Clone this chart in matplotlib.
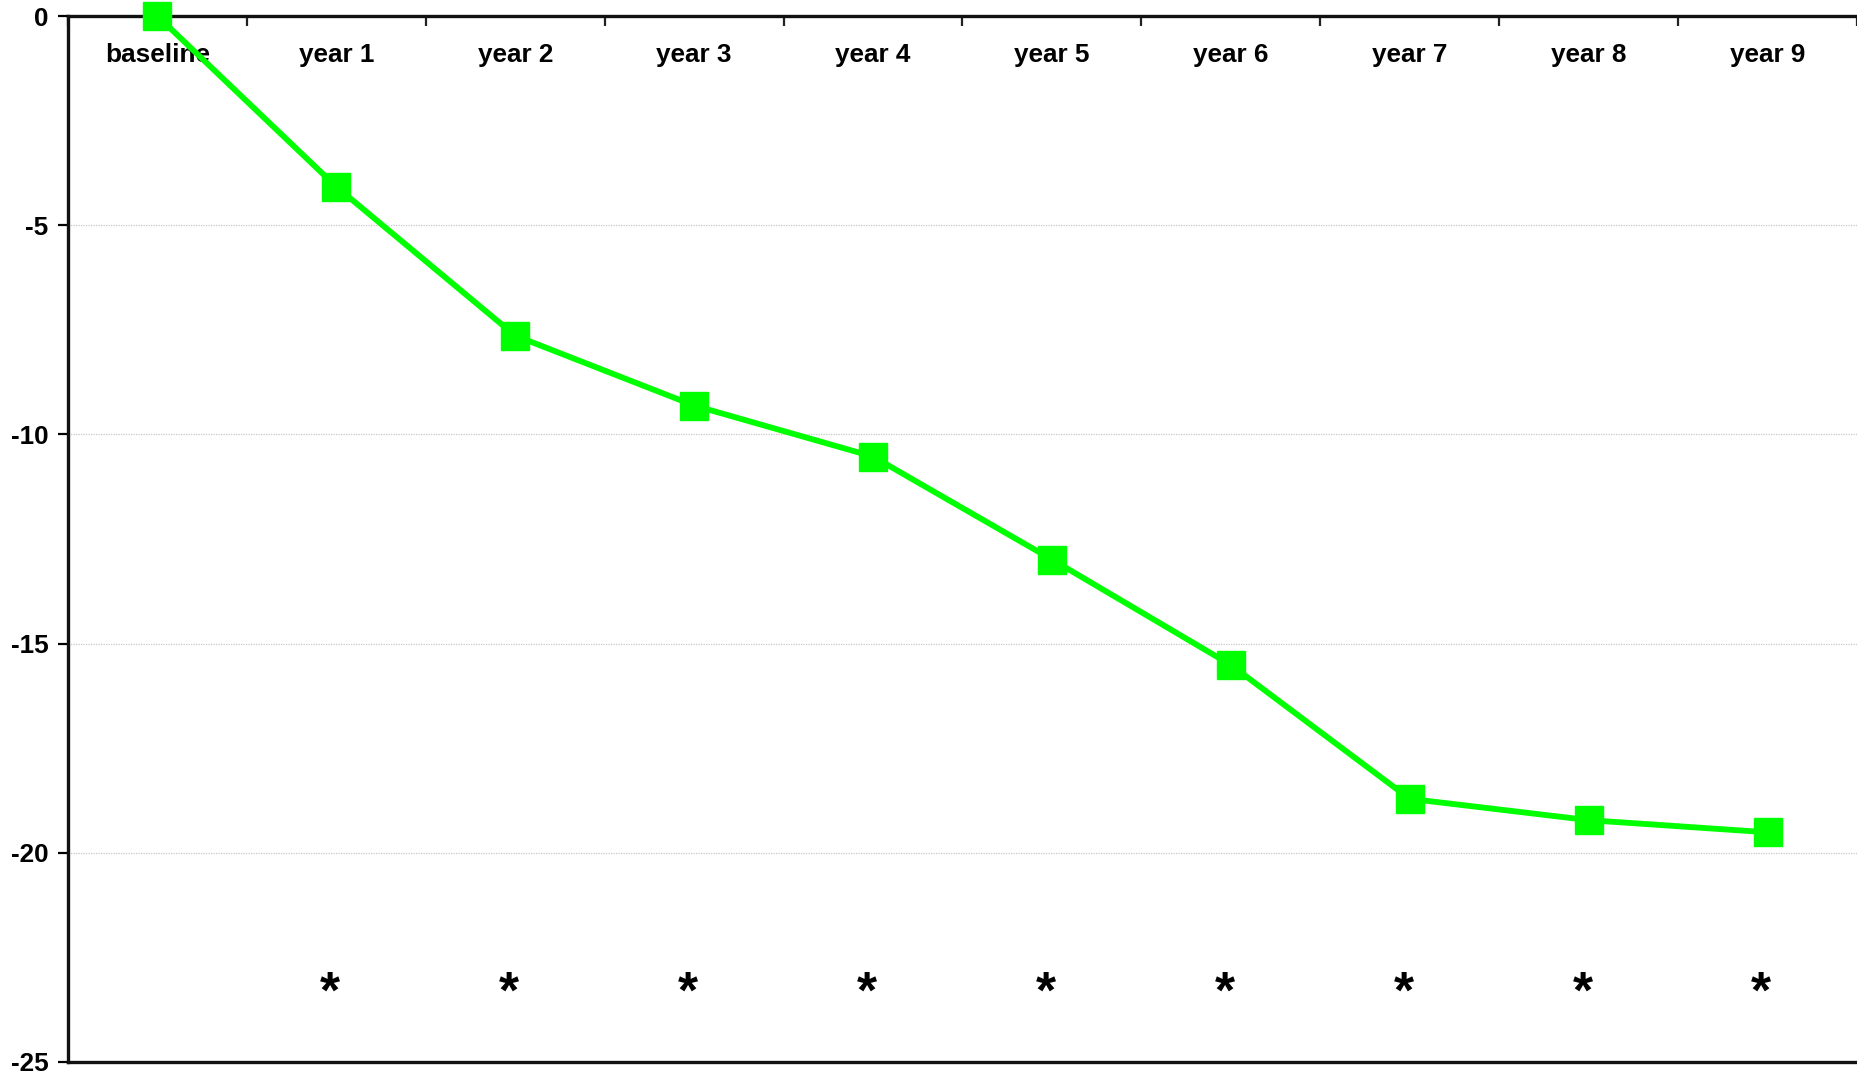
import matplotlib
matplotlib.use("Agg")
import matplotlib.pyplot as plt
import numpy as np

plt.rcParams['font.family'] = ['Liberation Sans', 'DejaVu Sans']

# mean change from baseline per visit
visits = ['baseline', 'year 1', 'year 2', 'year 3', 'year 4',
          'year 5', 'year 6', 'year 7', 'year 8', 'year 9']
change = [0, -4.08, -7.64, -9.31, -10.53, -12.99, -15.51, -18.71, -19.22, -19.51]
# visits marked as significant
signif = ['year 1', 'year 2', 'year 3', 'year 4', 'year 5',
          'year 6', 'year 7', 'year 8', 'year 9']
star_y = -23.38

fig = plt.figure(figsize=(18.57, 10.75), dpi=100)
ax = fig.add_axes([0.0366, 0.0121, 0.9634, 0.973])

x = np.arange(len(visits))
ax.plot(x, change, color='#00FF00', lw=4.2, marker='s', markersize=20.5,
        markeredgecolor='#00FF00', clip_on=False, zorder=5)

for name in signif:
    i = visits.index(name)
    ax.text(i - 0.035, star_y, '*', ha='center', va='center',
            fontsize=37, fontweight='bold')

for i, name in enumerate(visits):
    ax.text(i, -0.92, name, ha='center', va='center',
            fontsize=18.8, fontweight='bold')

ax.set_xlim(-0.5, 9.5)
ax.set_ylim(-25, 0)

# category boundaries as tick marks on the top axis
ax.set_xticks(np.arange(-0.5, 10.0, 1.0))
ax.set_xticklabels([])
ax.xaxis.set_ticks_position('top')
ax.tick_params(axis='x', direction='in', length=7, width=1.6, color='#222222')

ax.set_yticks([0, -5, -10, -15, -20, -25])
ax.set_yticklabels(['0', '-5', '-10', '-15', '-20', '-25'],
                   fontsize=18.8, fontweight='bold')
ax.tick_params(axis='y', direction='out', length=7, width=1.6, pad=7)

ax.yaxis.grid(True, color='#c8c8c8', lw=0.9, ls=(0, (1, 1)))
ax.set_axisbelow(True)

for side in ['left', 'top', 'bottom']:
    ax.spines[side].set_linewidth(2.4)
    ax.spines[side].set_color('#111111')
ax.spines['right'].set_visible(False)

fig.savefig('out.png', dpi=100)
